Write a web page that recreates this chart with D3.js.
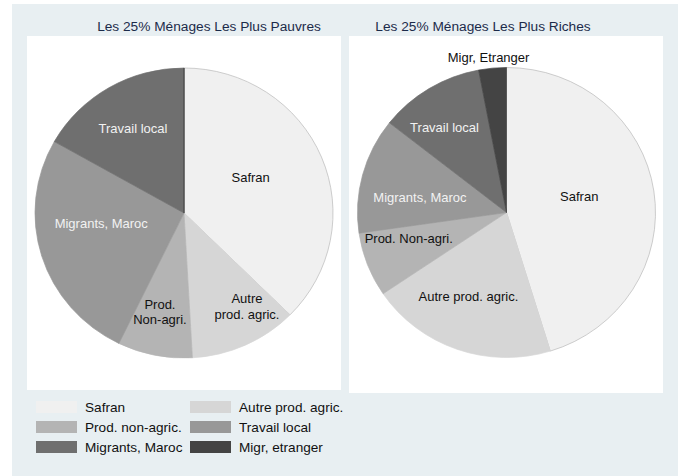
<!DOCTYPE html>
<html lang="fr">
<head>
  <meta charset="UTF-8">
  <title>Sources de revenu des ménages</title>
  <script src="https://d3js.org/d3.v7.min.js"></script>
  <style>
    html, body {
      margin: 0;
      padding: 0;
      background: #fff;
    }
    svg text {
      font-family: Arial, "Liberation Sans", sans-serif;
    }
  </style>
</head>
<body>
  <div id="container"></div>
  <script>

    // categories, in slice order (clockwise from 12 o'clock)
    const categories = ['Safran', 'Autre prod. agric.', 'Prod. non-agric.', 'Travail local', 'Migrants, Maroc', 'Migr, etranger'];
    const shades = ['#f0f0f0', '#d6d6d6', '#b4b4b4', '#989898', '#6f6f6f', '#444444'];

    // share of income (%)
    const poorValues = [37.4, 11.7, 8.1, 26.0, 16.8, 0];
    const richValues = [45.3, 20.3, 7.2, 12.9, 11.4, 3.0];

    // labels as written inside each pie
    const poorLabels = ['Safran', 'Autre|prod. agric.', 'Prod.|Non-agri.', 'Migrants, Maroc', 'Travail local', ''];
    const richLabels = ['Safran', 'Autre prod. agric.', 'Prod. Non-agri.', 'Migrants, Maroc', 'Travail local', 'Migr, Etranger'];

    const titles = ['Les 25% Ménages Les Plus Pauvres', 'Les 25% Ménages Les Plus Riches'];

    const width = 680;
    const height = 476;

    const svg = d3.select('#container').append('svg')
      .attr('width', width).attr('height', height);

    // plot region background
    svg.append('rect')
      .attr('x', 12).attr('y', 4).attr('width', 666).attr('height', 472)
      .attr('fill', '#e8eff2');

    // label placement: radius fraction and angle nudge (degrees) per slice
    const panels = [
      {title: titles[0], values: poorValues, labels: poorLabels,
       box: [27, 36, 314, 354], cx: 184, cy: 213, titleX: 209,
       lab: [[0.51, -6], [0.77, -9], [0.70, 2], [0.56, 10], [0.68, 0], [0, 0]]},
      {title: titles[1], values: richValues, labels: richLabels,
       box: [349, 36, 314, 357], cx: 506.5, cy: 212.5, titleX: 483,
       lab: [[0.50, -4], [0.63, 4.5], [0.68, 6], [0.59, -5], [0.72, -4], [1.08, -1]]}
    ];

    const rx = 149, ry = 145;
    const squash = ry / rx;
    const darkText = (i) => i === 3 || i === 4;

    const pie = d3.pie().sort(null).value(d => d);
    const arc = d3.arc().innerRadius(0).outerRadius(rx);

    panels.forEach(p => {
      svg.append('rect')
        .attr('x', p.box[0]).attr('y', p.box[1])
        .attr('width', p.box[2]).attr('height', p.box[3])
        .attr('fill', '#fff');

      svg.append('text')
        .attr('x', p.titleX).attr('y', 30.5)
        .attr('text-anchor', 'middle')
        .attr('font-size', '13.7px')
        .attr('fill', '#1c2b4a')
        .text(p.title);

      const arcs = pie(p.values);

      const g = svg.append('g')
        .attr('transform', `translate(${p.cx},${p.cy}) scale(1,${squash})`);

      g.selectAll('path').data(arcs).enter().append('path')
        .attr('d', arc)
        .attr('fill', (d, i) => shades[i])
        .attr('stroke', (d, i) => i === 0 ? '#b8b8b8' : shades[i])
        .attr('stroke-width', 0.7);

      const lg = svg.append('g').attr('transform', `translate(${p.cx},${p.cy})`);

      arcs.forEach((d, i) => {
        if (!p.labels[i]) return;
        const [rf, nudge] = p.lab[i];
        const a = (d.startAngle + d.endAngle) / 2 + nudge * Math.PI / 180;
        const x = Math.sin(a) * rx * rf;
        const y = -Math.cos(a) * rx * rf * squash;
        const lines = p.labels[i].split('|');
        const t = lg.append('text')
          .attr('text-anchor', 'middle')
          .attr('font-size', '13px')
          .attr('fill', darkText(i) ? '#f2f2f2' : '#111');
        lines.forEach((s, k) => {
          t.append('tspan')
            .attr('x', x)
            .attr('y', y + (k - (lines.length - 1) / 2) * 15.5)
            .attr('dy', '0.36em')
            .text(s);
        });
      });
    });

    // legend, two columns
    const legend = svg.append('g').attr('transform', 'translate(36,401)');
    const item = legend.selectAll('g').data(categories).enter().append('g')
      .attr('transform', (d, i) => `translate(${(i % 2) * 154},${Math.floor(i / 2) * 20})`);
    item.append('rect')
      .attr('width', 41).attr('height', 12)
      .attr('fill', (d, i) => shades[i]);
    item.append('text')
      .attr('x', 49).attr('y', 6).attr('dy', '0.36em')
      .attr('font-size', '13.6px')
      .attr('fill', '#111')
      .text(d => d);

  </script>
</body>
</html>
